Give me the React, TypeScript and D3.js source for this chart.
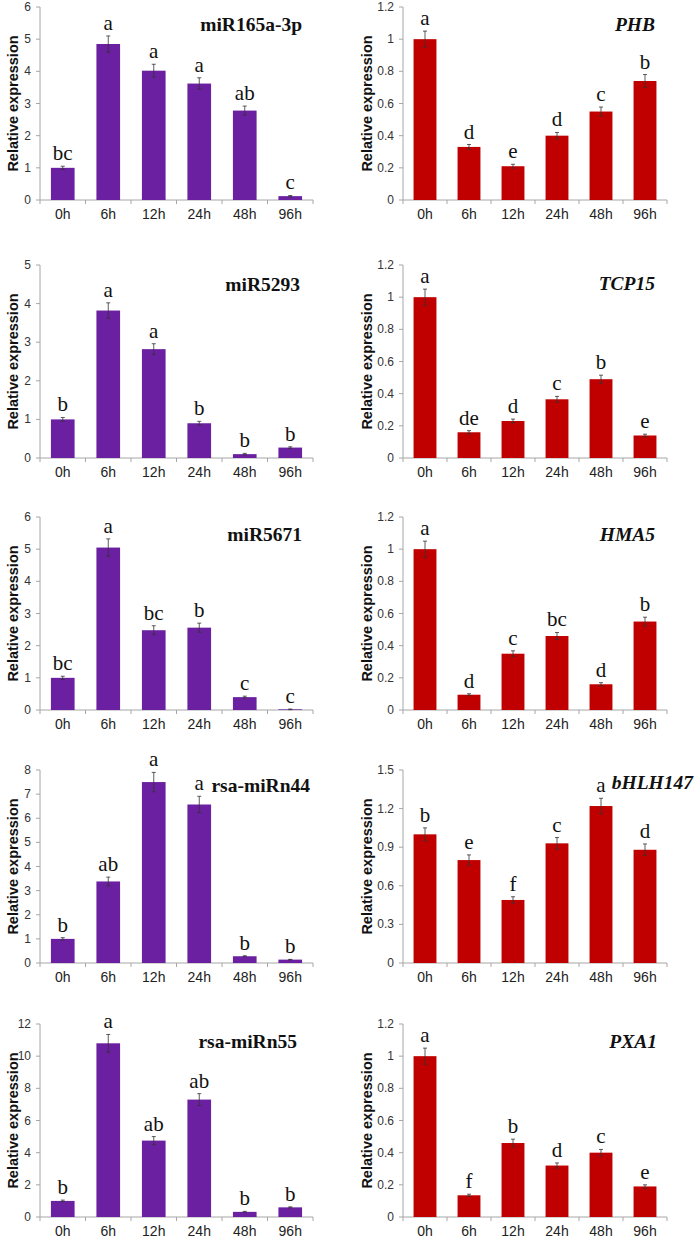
import React, { useEffect, useRef } from "react";
import * as d3 from "d3";

// time points on the x axis
const times = ["0h", "6h", "12h", "24h", "48h", "96h"];

// miRNA panels (left column)
const miR165Values = [1.0, 4.85, 4.02, 3.62, 2.78, 0.12];
const miR165Errors = [0.05, 0.25, 0.2, 0.18, 0.14, 0.02];
const miR165Letters = ["bc", "a", "a", "a", "ab", "c"];

const miR5293Values = [1.0, 3.82, 2.82, 0.9, 0.1, 0.27];
const miR5293Errors = [0.05, 0.2, 0.14, 0.05, 0.02, 0.02];
const miR5293Letters = ["b", "a", "a", "b", "b", "b"];

const miR5671Values = [1.0, 5.05, 2.48, 2.56, 0.4, 0.02];
const miR5671Errors = [0.05, 0.27, 0.14, 0.14, 0.03, 0.01];
const miR5671Letters = ["bc", "a", "bc", "b", "c", "c"];

const miRn44Values = [1.0, 3.38, 7.5, 6.57, 0.28, 0.14];
const miRn44Errors = [0.05, 0.18, 0.4, 0.34, 0.02, 0.01];
const miRn44Letters = ["b", "ab", "a", "a", "b", "b"];

const miRn55Values = [1.0, 10.8, 4.75, 7.3, 0.32, 0.6];
const miRn55Errors = [0.05, 0.55, 0.25, 0.37, 0.03, 0.03];
const miRn55Letters = ["b", "a", "ab", "ab", "b", "b"];

// target gene panels (right column)
const phbValues = [1.0, 0.33, 0.21, 0.4, 0.55, 0.74];
const phbErrors = [0.05, 0.015, 0.012, 0.02, 0.028, 0.04];
const phbLetters = ["a", "d", "e", "d", "c", "b"];

const tcp15Values = [1.0, 0.16, 0.23, 0.365, 0.49, 0.14];
const tcp15Errors = [0.05, 0.01, 0.012, 0.018, 0.025, 0.008];
const tcp15Letters = ["a", "de", "d", "c", "b", "e"];

const hma5Values = [1.0, 0.095, 0.35, 0.46, 0.16, 0.55];
const hma5Errors = [0.05, 0.006, 0.018, 0.022, 0.01, 0.027];
const hma5Letters = ["a", "d", "c", "bc", "d", "b"];

const bhlhValues = [1.0, 0.8, 0.49, 0.93, 1.22, 0.88];
const bhlhErrors = [0.05, 0.04, 0.025, 0.045, 0.06, 0.045];
const bhlhLetters = ["b", "e", "f", "c", "a", "d"];

const pxa1Values = [1.0, 0.135, 0.46, 0.32, 0.4, 0.19];
const pxa1Errors = [0.05, 0.007, 0.024, 0.016, 0.02, 0.01];
const pxa1Letters = ["a", "f", "b", "d", "c", "e"];

// y tick labels
const ticks6 = [0, 1, 2, 3, 4, 5, 6];
const ticks5 = [0, 1, 2, 3, 4, 5];
const ticks8 = [0, 1, 2, 3, 4, 5, 6, 7, 8];
const ticks12 = [0, 2, 4, 6, 8, 10, 12];
const ticks12b = [0, 0.2, 0.4, 0.6, 0.8, 1, 1.2];
const ticks15 = [0, 0.3, 0.6, 0.9, 1.2, 1.5];

const panels = [
  { name: "miR165a-3p", values: miR165Values, errors: miR165Errors, letters: miR165Letters, ticks: ticks6, gene: false },
  { name: "PHB", values: phbValues, errors: phbErrors, letters: phbLetters, ticks: ticks12b, gene: true },
  { name: "miR5293", values: miR5293Values, errors: miR5293Errors, letters: miR5293Letters, ticks: ticks5, gene: false },
  { name: "TCP15", values: tcp15Values, errors: tcp15Errors, letters: tcp15Letters, ticks: ticks12b, gene: true },
  { name: "miR5671", values: miR5671Values, errors: miR5671Errors, letters: miR5671Letters, ticks: ticks6, gene: false },
  { name: "HMA5", values: hma5Values, errors: hma5Errors, letters: hma5Letters, ticks: ticks12b, gene: true },
  { name: "rsa-miRn44", values: miRn44Values, errors: miRn44Errors, letters: miRn44Letters, ticks: ticks8, gene: false },
  { name: "bHLH147", values: bhlhValues, errors: bhlhErrors, letters: bhlhLetters, ticks: ticks15, gene: true },
  { name: "rsa-miRn55", values: miRn55Values, errors: miRn55Errors, letters: miRn55Letters, ticks: ticks12, gene: false },
  { name: "PXA1", values: pxa1Values, errors: pxa1Errors, letters: pxa1Letters, ticks: ticks12b, gene: true },
];

// layout
const W = 697;
const H = 1245;
const rowTop = [7, 265, 517, 770, 1024];
const plotH = 193;
const cols = [
  { left: 40, right: 313, labelX: 13 },
  { left: 403, right: 667, labelX: 367 },
];
// right edge / baseline offset of the panel titles
const titleEnd = [302, 655, 300, 655, 302, 655, 310, 693, 297, 657];
const titleDy = [24, 24, 26, 25, 24, 24, 22, 19, 24, 24];

const SANS = "'Liberation Sans', Arial, sans-serif";
const SERIF = "'Liberation Serif', 'Times New Roman', serif";
const PURPLE = "#6a20a0";
const RED = "#c00000";
const AXIS = "#a6a6a6";

const App = () => {
  const svgRef = useRef(null);

  useEffect(() => {
    const svg = d3.select(svgRef.current);
    svg.selectAll("*").remove();

    panels.forEach((p, i) => {
      const row = Math.floor(i / 2);
      const col = cols[i % 2];
      const top = rowTop[row];
      const bottom = top + plotH;
      const g = svg.append("g");

      const x = d3.scaleBand().domain(times).range([col.left, col.right]).padding(0);
      const y = d3
        .scaleLinear()
        .domain([0, p.ticks[p.ticks.length - 1]])
        .range([bottom, top]);
      const bw = x.bandwidth() * 0.52;
      const color = p.gene ? RED : PURPLE;

      // eixo Y
      g.append("line")
        .attr("x1", col.left).attr("x2", col.left)
        .attr("y1", top).attr("y2", bottom)
        .attr("stroke", AXIS);
      p.ticks.forEach((t) => {
        g.append("line")
          .attr("x1", col.left - 4).attr("x2", col.left)
          .attr("y1", y(t)).attr("y2", y(t))
          .attr("stroke", AXIS);
        g.append("text")
          .attr("x", col.left - 9)
          .attr("y", y(t) + 4)
          .attr("text-anchor", "end")
          .style("font-family", SANS)
          .style("font-size", "12px")
          .style("fill", "#333")
          .text(String(t));
      });

      // eixo X
      g.append("line")
        .attr("x1", col.left).attr("x2", col.right)
        .attr("y1", bottom).attr("y2", bottom)
        .attr("stroke", AXIS);
      [...times.map((t) => x(t)), col.right].forEach((xv) => {
        g.append("line")
          .attr("x1", xv).attr("x2", xv)
          .attr("y1", bottom).attr("y2", bottom + 4)
          .attr("stroke", AXIS);
      });
      times.forEach((t) => {
        g.append("text")
          .attr("x", x(t) + x.bandwidth() / 2)
          .attr("y", bottom + 19)
          .attr("text-anchor", "middle")
          .style("font-family", SANS)
          .style("font-size", "14px")
          .style("fill", "#222")
          .text(t);
      });

      // barras
      p.values.forEach((v, k) => {
        const cx = x(times[k]) + x.bandwidth() / 2;
        g.append("rect")
          .attr("x", cx - bw / 2)
          .attr("y", y(v))
          .attr("width", bw)
          .attr("height", bottom - y(v))
          .attr("fill", color);

        // barra de erro
        const hi = y(v + p.errors[k]);
        const lo = y(v - p.errors[k]);
        g.append("line")
          .attr("x1", cx).attr("x2", cx)
          .attr("y1", hi).attr("y2", lo)
          .attr("stroke", "#333").attr("stroke-width", 0.8);
        [hi, lo].forEach((yy) => {
          g.append("line")
            .attr("x1", cx - 2).attr("x2", cx + 2)
            .attr("y1", yy).attr("y2", yy)
            .attr("stroke", "#333").attr("stroke-width", 0.8);
        });

        // letras de significância
        g.append("text")
          .attr("x", cx)
          .attr("y", hi - 6)
          .attr("text-anchor", "middle")
          .style("font-family", SERIF)
          .style("font-size", "21px")
          .style("fill", "#111")
          .text(p.letters[k]);
      });

      // título
      g.append("text")
        .attr("x", titleEnd[i])
        .attr("y", top + titleDy[i])
        .attr("text-anchor", "end")
        .style("font-family", SERIF)
        .style("font-size", "19.5px")
        .style("font-weight", "bold")
        .style("font-style", p.gene ? "italic" : "normal")
        .style("fill", "#111")
        .text(p.name);

      // rótulo Y
      g.append("text")
        .attr("transform", `translate(${col.labelX},${(top + bottom) / 2}) rotate(-90)`)
        .attr("dy", "0.35em")
        .attr("text-anchor", "middle")
        .style("font-family", SANS)
        .style("font-size", "14.5px")
        .style("font-weight", "bold")
        .style("fill", "#111")
        .text("Relative expression");
    });
  }, []);

  return (
    <svg
      ref={svgRef}
      width={W}
      height={H}
      style={{ position: "absolute", left: 0, top: 0, background: "#fff" }}
    ></svg>
  );
};

export default App;
